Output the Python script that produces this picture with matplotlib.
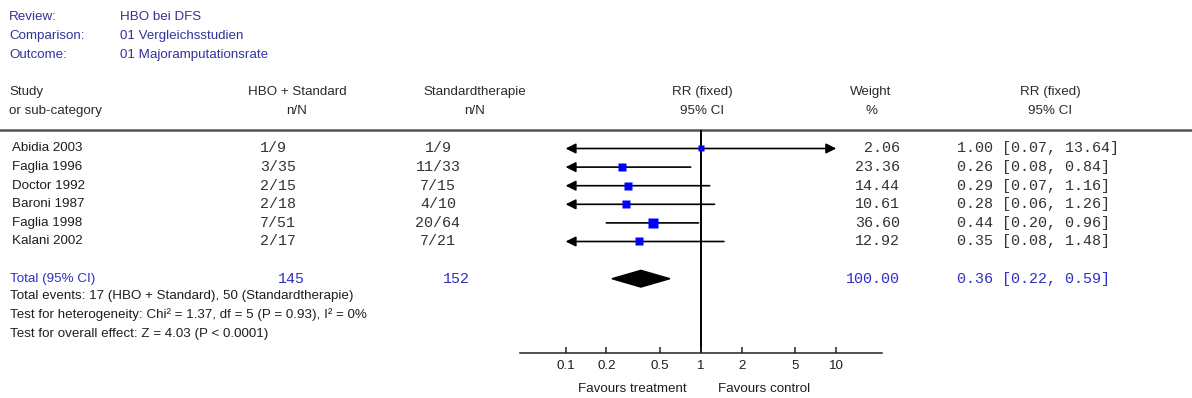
import matplotlib
matplotlib.use("Agg")
import matplotlib.pyplot as plt
import matplotlib.transforms as mtransforms
import numpy as np

# data
studies = ["Abidia 2003", "Faglia 1996", "Doctor 1992", "Baroni 1987", "Faglia 1998", "Kalani 2002"]
hbo_events = [1, 3, 2, 2, 7, 2]
hbo_total = [9, 35, 15, 18, 51, 17]
std_events = [1, 11, 7, 4, 20, 7]
std_total = [9, 33, 15, 10, 64, 21]
weights = [2.06, 23.36, 14.44, 10.61, 36.60, 12.92]
rr = [1.00, 0.26, 0.29, 0.28, 0.44, 0.35]
ci_lo = [0.07, 0.08, 0.07, 0.06, 0.20, 0.08]
ci_hi = [13.64, 0.84, 1.16, 1.26, 0.96, 1.48]

total_n = [145, 152]
total_w = 100.00
total_rr, total_lo, total_hi = 0.36, 0.22, 0.59

ticks = [0.1, 0.2, 0.5, 1, 2, 5, 10]
tick_labels = ["0.1", "0.2", "0.5", "1", "2", "5", "10"]
clip_lo, clip_hi = 0.1, 10

header_info = [("Review:", "HBO bei DFS"),
               ("Comparison:", "01 Vergleichsstudien"),
               ("Outcome:", "01 Majoramputationsrate")]
footer = ["Total events: 17 (HBO + Standard), 50 (Standardtherapie)",
          "Test for heterogeneity: Chi\u00b2 = 1.37, df = 5 (P = 0.93), I\u00b2 = 0%",
          "Test for overall effect: Z = 4.03 (P < 0.0001)"]

SANS = "Liberation Sans"
MONO = "Liberation Mono"
fs = 9.6
fm = 10.8
navy = "#33339a"
blue = "#2f2fc4"
dark = "#1e1e1e"
mono_c = "#333333"

W, H = 1192, 398
fig = plt.figure(figsize=(W / 100, H / 100), dpi=100)

# background axes in pixel units for the text layout
bg = fig.add_axes([0, 0, 1, 1])
bg.set_xlim(0, W)
bg.set_ylim(H, 0)
bg.axis("off")

# forest plot axes
row0, dy = 148.5, 18.6
top_px, axis_px = 130, 353
left_px, right_px = 520, 882
ax = fig.add_axes([left_px / W, (H - axis_px) / H, (right_px - left_px) / W, (axis_px - top_px) / H])
ax.set_xscale("log")
ax.set_xlim(0.046, 21.8)
ax.set_ylim((axis_px - row0) / dy, (top_px - row0) / dy)
ax.patch.set_alpha(0)
for s in ["top", "left", "right"]:
    ax.spines[s].set_visible(False)
ax.spines["bottom"].set_linewidth(1.1)
ax.spines["bottom"].set_color("#222222")
ax.set_yticks([])
ax.minorticks_off()
ax.set_xticks(ticks)
ax.set_xticklabels(tick_labels, fontfamily=SANS, fontsize=fs, color=dark)
ax.tick_params(axis="x", direction="in", length=4, width=1.1, pad=5, color="#222222")

ax.axvline(1, color="black", lw=1.4, zorder=1)

n = len(studies)
for i in range(n):
    lo = max(ci_lo[i], clip_lo)
    hi = min(ci_hi[i], clip_hi)
    if ci_lo[i] < clip_lo and ci_hi[i] > clip_hi:
        style = "<|-|>"
    elif ci_lo[i] < clip_lo:
        style = "<|-"
    elif ci_hi[i] > clip_hi:
        style = "-|>"
    else:
        style = "-"
    ax.annotate("", xy=(hi, i), xytext=(lo, i),
                arrowprops=dict(arrowstyle=style, color="black", lw=1.2,
                                mutation_scale=15, shrinkA=0, shrinkB=0))
    side_px = 5 + 0.8 * np.sqrt(weights[i])
    ax.plot(rr[i], i, "s", color="#0000ff", ms=side_px * 0.72, mec="none", zorder=5)

# pooled diamond
rt = n + 1
ax.fill([total_lo, total_rr, total_hi, total_rr], [rt, rt - 0.45, rt, rt + 0.45],
        color="black", zorder=5)

# header
for k, (lab, val) in enumerate(header_info):
    y = 17 + 18.8 * k
    bg.text(9, y, lab, fontfamily=SANS, fontsize=fs, color=navy, va="center")
    bg.text(120, y, val, fontfamily=SANS, fontsize=fs, color=navy, va="center")

col_heads = [(9, "Study", "or sub-category", "left"),
             (297, "HBO + Standard", "n/N", "center"),
             (475, "Standardtherapie", "n/N", "center"),
             (702, "RR (fixed)", "95% CI", "center"),
             (871, "Weight", "%", "center"),
             (1050, "RR (fixed)", "95% CI", "center")]
for x, l1, l2, ha in col_heads:
    bg.text(x, 92, l1, fontfamily=SANS, fontsize=fs, color="#2a2a2a", ha=ha, va="center")
    bg.text(x, 111, l2, fontfamily=SANS, fontsize=fs, color="#2a2a2a", ha=ha, va="center")

bg.plot([0, W], [130, 130], color="#555555", lw=1.8)

# table rows share the forest axes' row scale
trans = mtransforms.blended_transform_factory(bg.transData, ax.transData)
for i in range(n):
    bg.text(12, i, studies[i], transform=trans, fontfamily=SANS, fontsize=fs,
            color=dark, va="center")
    bg.text(260, i, f"{hbo_events[i]}/{hbo_total[i]}", transform=trans,
            fontfamily=MONO, fontsize=fm, color=mono_c, va="center")
    bg.text(438, i, f"{std_events[i]}/{std_total[i]}", transform=trans,
            fontfamily=MONO, fontsize=fm, color=mono_c, va="center", ha="center")
    bg.text(900, i, f"{weights[i]:.2f}", transform=trans, fontfamily=MONO,
            fontsize=fm, color=mono_c, va="center", ha="right")
    bg.text(957, i, f"{rr[i]:.2f} [{ci_lo[i]:.2f}, {ci_hi[i]:.2f}]", transform=trans,
            fontfamily=MONO, fontsize=fm, color=mono_c, va="center")

bg.text(10, rt, "Total (95% CI)", transform=trans, fontfamily=SANS, fontsize=fs,
        color=blue, va="center")
bg.text(278, rt, str(total_n[0]), transform=trans, fontfamily=MONO, fontsize=fm,
        color=blue, va="center")
bg.text(443, rt, str(total_n[1]), transform=trans, fontfamily=MONO, fontsize=fm,
        color=blue, va="center")
bg.text(900, rt, f"{total_w:.2f}", transform=trans, fontfamily=MONO, fontsize=fm,
        color=blue, va="center", ha="right")
bg.text(957, rt, f"{total_rr:.2f} [{total_lo:.2f}, {total_hi:.2f}]", transform=trans,
        fontfamily=MONO, fontsize=fm, color=blue, va="center")

for k, line in enumerate(footer):
    bg.text(10, 296 + 18.8 * k, line, fontfamily=SANS, fontsize=fs, color=dark, va="center")

bg.text(632, 389, "Favours treatment", fontfamily=SANS, fontsize=fs, color=dark,
        ha="center", va="center")
bg.text(764, 389, "Favours control", fontfamily=SANS, fontsize=fs, color=dark,
        ha="center", va="center")

fig.savefig("out.png", dpi=100)
